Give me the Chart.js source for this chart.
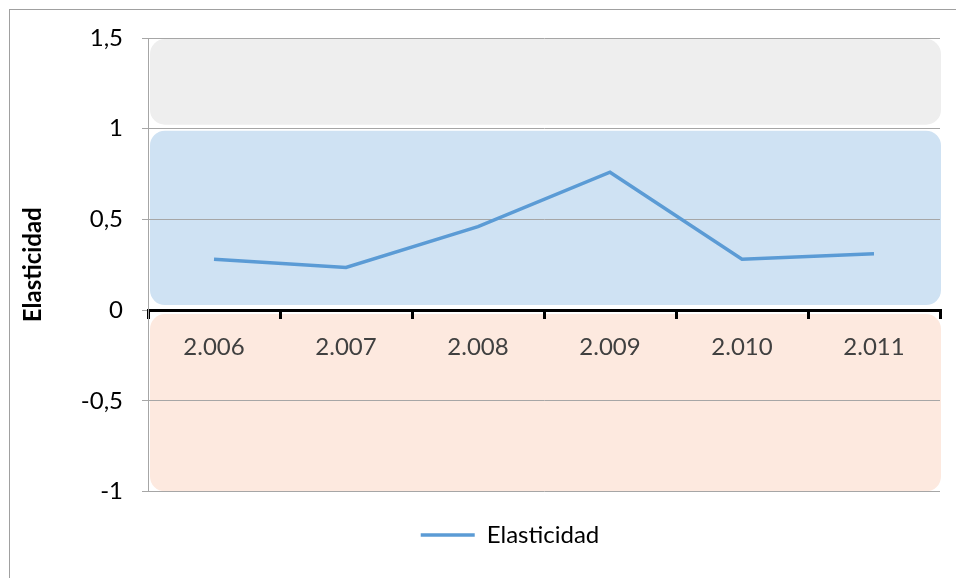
<!DOCTYPE html>
<html>
<head>
<meta charset="utf-8">
<script src="https://cdn.jsdelivr.net/npm/chart.js@4/dist/chart.umd.min.js"></script>
<style>
    body { margin: 0; background: #fff; }
    #wrap { position: relative; width: 956px; height: 578px; overflow: hidden; }
    #frame { position: absolute; left: 9px; top: 9px; width: 960px; height: 600px; border: 1px solid #a0a0a0; box-sizing: border-box; }
    canvas { position: absolute; left: 0; top: 0; }
</style>
</head>
<body>
<div id="wrap">
    <div id="frame"></div>
    <canvas id="elChart" width="956" height="578"></canvas>
</div>
<script>
// Chart data
const years = ['2.006', '2.007', '2.008', '2.009', '2.010', '2.011'];
const elasticidad = [0.28, 0.235, 0.46, 0.76, 0.28, 0.31];
const yTickValues = [-1, -0.5, 0, 0.5, 1, 1.5];
const yTickLabels = ['-1', '-0,5', '0', '0,5', '1', '1,5'];

// Background zones (value ranges on the y axis)
const zoneRanges = [[1, 1.5], [0, 1], [-1, 0]];
const zoneColors = ['#eeeeee', '#cfe2f3', '#fde9df'];
const zoneInsets = [[1, 4], [2, 5], [4, 0]]; // px: top, bottom

const FONT = 'Lato, "Open Sans", sans-serif';

// Draws the rounded background zones behind grid and line
const zonesPlugin = {
    id: 'zones',
    beforeDraw: (chart) => {
        const ctx = chart.ctx;
        const area = chart.chartArea;
        const yAxis = chart.scales.y;
        ctx.save();
        zoneRanges.forEach((r, i) => {
            const top = yAxis.getPixelForValue(r[1]) + zoneInsets[i][0];
            const bottom = yAxis.getPixelForValue(r[0]) - zoneInsets[i][1];
            ctx.beginPath();
            ctx.roundRect(area.left + 2, top, area.right - area.left - 1, bottom - top, 15);
            ctx.fillStyle = zoneColors[i];
            ctx.fill();
        });
        ctx.restore();
    }
};

new Chart(document.getElementById('elChart'), {
    type: 'line',
    data: {
        labels: years,
        datasets: [{
            label: 'Elasticidad',
            data: elasticidad,
            borderColor: '#5b9bd5',
            backgroundColor: '#5b9bd5',
            borderWidth: 3.5,
            tension: 0,
            pointRadius: 0
        }]
    },
    options: {
        responsive: false,
        devicePixelRatio: 1,
        animation: false,
        layout: {
            // left padding shifts the centred legend like in the original
            padding: { left: 80, right: 16, top: 38, bottom: 21 }
        },
        plugins: {
            tooltip: { enabled: false },
            legend: {
                position: 'bottom',
                title: { display: true, text: '', padding: 0, font: { size: 25.5, lineHeight: 1 } },
                labels: {
                    usePointStyle: true,
                    pointStyle: 'line',
                    pointStyleWidth: 54,
                    boxWidth: 54,
                    padding: 6,
                    color: '#000',
                    font: { family: FONT, size: 24 }
                }
            }
        },
        scales: {
            x: {
                position: { y: 0 },
                offset: true,
                grid: {
                    offset: true,
                    drawOnChartArea: false,
                    drawTicks: true,
                    tickLength: 7,
                    color: '#000',
                    lineWidth: 3
                },
                border: { color: '#000', width: 3 },
                ticks: {
                    padding: 16,
                    color: '#404040',
                    font: { family: FONT, size: 24 }
                }
            },
            y: {
                min: -1,
                max: 1.5,
                afterBuildTicks: (scale) => {
                    scale.ticks = yTickValues.map(v => ({ value: v }));
                },
                afterFit: (scale) => {
                    scale.width = 68;
                },
                grid: {
                    color: '#a6a6a6',
                    lineWidth: 1,
                    tickLength: 6
                },
                border: { color: '#a6a6a6', width: 1 },
                ticks: {
                    padding: 19,
                    color: '#000',
                    font: { family: FONT, size: 24 },
                    callback: function(value) {
                        const idx = yTickValues.indexOf(value);
                        return idx >= 0 ? yTickLabels[idx] : '';
                    }
                },
                title: {
                    display: true,
                    text: 'Elasticidad',
                    color: '#000',
                    padding: { top: -61, bottom: 0 },
                    font: { family: FONT, size: 24, weight: 'bold' }
                }
            }
        }
    },
    plugins: [zonesPlugin]
});
</script>
</body>
</html>
